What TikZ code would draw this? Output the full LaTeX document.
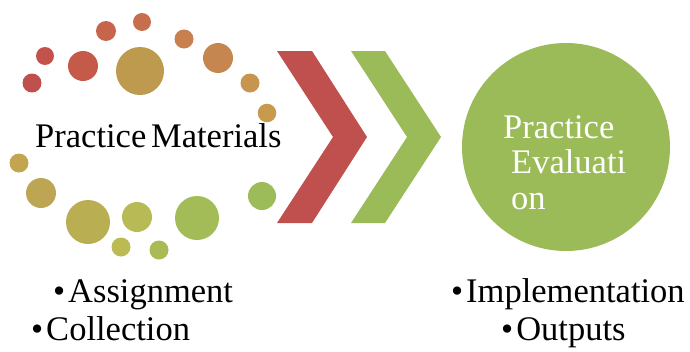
\documentclass[tikz,border=0pt]{standalone}
\usepackage{fontspec}
\setmainfont{Liberation Serif}
\definecolor{chevred}{HTML}{C0504D}
\definecolor{chevgreen}{HTML}{9BBB59}
\begin{document}
\begin{tikzpicture}[x=1pt,y=-1pt,
  label/.style={inner sep=0pt,font=\fontsize{34.5}{36}\selectfont}]
\useasboundingbox (0,0) rectangle (690,351);

% ring of dots around the first stage
\foreach \x/\y/\r/\c in {
  32/83/9.5/C0504D, 45/56/9/C3524D, 83/66/15/C55A4B, 106/31/10/C6654B,
  142/22/9/C76F4C, 140/71/24/BE9A4F, 184/39/9.5/C7804E, 218/58/15/C58650,
  250/83/9.5/C89550, 267/113/9.3/C89A4E, 19/163/9.5/C3A550, 41/193/15/BDA653,
  88/222/22/BAAE52, 137/217/15/B8BA55, 197/218/22/A4BC57, 121/247/9.5/BBBA53,
  159/250/9.5/AABA55, 262/196/14/9CBB59}
  {\definecolor{dotc}{HTML}{\c}\fill[dotc] (\x,\y) circle[radius=\r];}

\node[label,anchor=base west] (materials) at (35,147) {Practice\hspace{0.14em}Materials};

% two chevrons
\fill[chevred] (277,51) -- (312,51) -- (367,137) -- (312,223) -- (277,223) -- (333,137) -- cycle;
\fill[chevgreen] (351,51) -- (385,51) -- (441,137) -- (385,223) -- (351,223) -- (407,137) -- cycle;

% evaluation stage
\fill[chevgreen] (566,147) circle[radius=104];
\node[label,anchor=base west,text=white] (ev1) at (503,138) {Practice};
\node[label,anchor=base west,text=white] (ev2) at (511,173) {Evaluati};
\node[label,anchor=base west,text=white] (ev3) at (511,209) {on};

% bullet lists
\node[label,anchor=base west] (assign) at (53,302) {•\hspace{3pt}Assignment};
\node[label,anchor=base west] (collect) at (31,340) {•\hspace{3pt}Collection};
\node[label,anchor=base west] (impl) at (451,302) {•\hspace{3pt}Implementation};
\node[label,anchor=base west] (outp) at (501,340) {•\hspace{3pt}Outputs};
\end{tikzpicture}
\end{document}
